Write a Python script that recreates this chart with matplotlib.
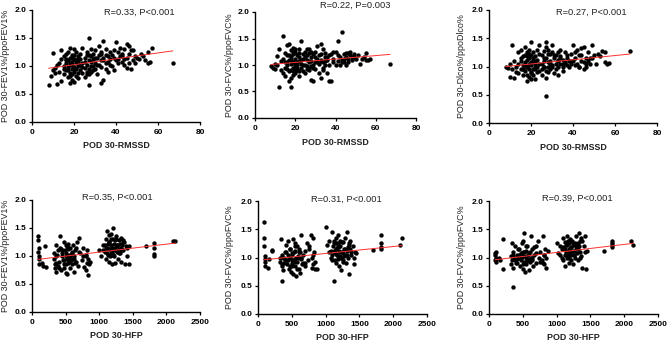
import numpy as np
import matplotlib.pyplot as plt

plt.rcParams['font.family'] = ['Liberation Sans', 'DejaVu Sans']

# ---- top row: x = POD 30-RMSSD (same patients in all three panels)
x_rmssd = [8, 9, 10, 10, 11, 11, 12, 12, 13, 13,
           14, 14, 14, 15, 15, 15, 16, 16, 16, 17,
           17, 17, 17, 18, 18, 18, 18, 18, 19, 19,
           19, 19, 19, 20, 20, 20, 20, 20, 21, 21,
           21, 21, 22, 22, 22, 22, 23, 23, 23, 24,
           24, 24, 25, 25, 25, 26, 26, 26, 27, 27,
           27, 27, 27, 28, 28, 28, 29, 29, 29, 30,
           30, 30, 31, 31, 32, 32, 32, 33, 33, 33,
           34, 34, 34, 35, 35, 35, 36, 36, 37, 37,
           38, 38, 39, 39, 40, 40, 41, 41, 42, 42,
           43, 43, 44, 44, 45, 45, 45, 46, 46, 47,
           47, 48, 49, 49, 50, 51, 52, 54, 55, 55,
           56, 57, 67, 16, 19, 22, 26, 29, 33, 36,
           15, 16, 17, 18, 18, 19, 20, 20, 21, 22,
           23, 24, 25, 26, 27, 28, 28, 30, 31, 33,
           34, 35, 37, 39, 41, 43, 44, 46, 48, 53]

fev1_rmssd = [0.66, 0.83, 1.23, 0.93, 0.97, 0.88, 0.68, 1.02, 1.05, 0.90,
              0.73, 1.28, 1.12, 0.95, 1.18, 0.86, 1.05, 0.92, 1.22, 0.98,
              1.10, 0.80, 1.25, 0.70, 1.33, 1.02, 0.88, 1.15, 0.95, 1.20,
              0.75, 1.08, 0.85, 1.30, 0.98, 0.72, 1.12, 0.90, 1.05, 1.25,
              0.82, 0.95, 1.18, 1.00, 0.78, 1.08, 0.92, 1.22, 1.02, 1.32,
              0.88, 1.05, 1.15, 0.96, 0.80, 1.25, 1.02, 0.90, 1.50, 0.66,
              1.10, 0.85, 0.95, 1.30, 1.00, 1.18, 0.92, 1.12, 1.22, 1.05,
              0.95, 1.28, 1.15, 0.85, 1.02, 1.20, 1.35, 0.69, 1.10, 0.98,
              1.45, 0.75, 1.15, 1.05, 1.30, 0.95, 1.18, 1.08, 1.25, 1.12,
              1.00, 1.20, 0.92, 1.15, 1.43, 1.10, 1.25, 1.05, 1.18, 1.32,
              1.08, 1.22, 1.30, 1.12, 1.40, 1.15, 0.96, 1.35, 1.05, 0.95,
              1.28, 1.10, 1.18, 1.05, 1.15, 1.12, 1.22, 1.10, 1.25, 1.05,
              1.08, 1.32, 1.05, 1.10, 1.02, 1.15, 1.20, 1.00, 1.25, 0.90,
              1.00, 1.12, 0.93, 1.05, 0.82, 1.15, 1.20, 0.95, 1.10, 0.88,
              1.12, 0.98, 1.08, 0.85, 1.20, 1.08, 0.90, 1.15, 1.02, 1.22,
              1.10, 1.20, 1.02, 1.28, 1.12, 1.18, 1.02, 1.22, 1.28, 1.18]

fvc_rmssd = [0.98, 0.95, 1.02, 0.93, 1.17, 1.00, 0.58, 1.30, 1.08, 0.90,
             1.54, 0.85, 1.12, 0.95, 1.22, 0.80, 1.05, 0.92, 1.38, 0.70,
             1.10, 1.40, 0.88, 0.58, 1.28, 1.02, 0.75, 1.15, 0.95, 1.32,
             0.82, 1.20, 1.05, 1.25, 0.98, 0.85, 1.12, 0.92, 1.05, 1.18,
             0.90, 1.00, 1.15, 1.30, 0.80, 1.08, 0.95, 1.45, 1.02, 1.20,
             0.88, 1.12, 1.00, 1.25, 0.85, 1.10, 0.98, 1.18, 0.95, 1.05,
             1.22, 0.90, 1.30, 1.08, 0.72, 1.15, 0.70, 1.00, 1.20, 1.05,
             1.25, 0.92, 1.12, 1.35, 1.02, 1.18, 0.85, 1.40, 0.75, 1.10,
             1.05, 1.30, 0.95, 1.15, 1.22, 1.00, 0.85, 1.10, 1.18, 0.70,
             0.70, 1.20, 1.05, 1.12, 1.00, 1.25, 1.45, 1.08, 1.15, 1.00,
             1.63, 1.10, 1.05, 1.20, 1.15, 1.00, 1.22, 1.12, 1.05, 1.18,
             1.25, 1.10, 1.20, 1.15, 1.12, 1.18, 1.01, 1.15, 1.23, 1.10,
             1.10, 1.12, 1.01, 1.18, 1.25, 0.88, 1.30, 0.95, 1.08, 1.15,
             1.05, 1.00, 1.18, 0.90, 1.10, 0.88, 1.30, 1.02, 0.95, 1.22,
             1.10, 1.00, 1.15, 0.92, 1.08, 1.25, 0.98, 1.15, 1.05, 1.20,
             0.90, 1.08, 1.00, 1.25, 1.18, 1.05, 1.12, 1.22, 1.15, 1.12]

dlco_rmssd = [1.00, 0.98, 1.05, 0.82, 1.38, 0.95, 0.80, 1.10, 1.00, 0.90,
              1.25, 0.88, 1.05, 1.15, 0.95, 1.30, 1.02, 0.85, 1.18, 1.08,
              0.92, 1.20, 1.35, 0.75, 1.12, 1.00, 0.85, 1.25, 1.05, 0.95,
              1.30, 0.82, 1.15, 1.44, 1.02, 0.90, 1.20, 0.78, 1.10, 0.95,
              1.25, 0.85, 1.05, 1.18, 0.78, 0.95, 1.12, 1.00, 1.30, 0.92,
              1.38, 1.05, 1.20, 0.95, 0.85, 1.10, 1.28, 1.00, 0.48, 1.43,
              1.15, 0.80, 1.35, 1.00, 1.22, 0.90, 1.10, 1.05, 0.95, 1.25,
              1.38, 1.00, 1.15, 0.88, 1.05, 1.20, 0.95, 1.25, 1.10, 0.85,
              1.30, 1.05, 1.18, 1.00, 1.12, 0.92, 1.08, 1.25, 1.02, 1.15,
              1.10, 1.00, 1.05, 1.22, 1.38, 1.10, 1.02, 1.15, 1.30, 1.05,
              1.00, 1.20, 1.10, 1.32, 0.95, 1.08, 1.35, 1.15, 1.00, 1.25,
              1.10, 1.05, 1.38, 1.15, 1.20, 1.05, 1.22, 1.28, 1.08, 1.25,
              1.05, 1.07, 1.27, 0.95, 1.18, 1.10, 1.00, 1.22, 1.12, 1.05,
              1.10, 0.95, 1.02, 1.18, 1.00, 1.22, 0.88, 1.08, 1.15, 1.00,
              0.90, 1.22, 1.05, 1.15, 0.92, 1.08, 1.30, 1.02, 1.20, 1.00,
              1.15, 1.05, 1.20, 1.10, 1.25, 1.00, 1.20, 1.05, 1.15, 1.18]

# ---- bottom row: x = POD 30-HFP
x_hfp = [90, 90, 95, 100, 100, 105, 110, 150, 170, 200,
         210, 330, 340, 350, 350, 360, 370, 380, 400, 410,
         420, 430, 450, 460, 470, 480, 490, 500, 500, 510,
         520, 520, 530, 540, 540, 550, 560, 570, 580, 590,
         600, 610, 620, 630, 640, 650, 670, 690, 700, 720,
         740, 760, 780, 800, 810, 820, 830, 840, 850, 870,
         1000, 1020, 1050, 1080, 1100, 1100, 1110, 1120, 1130, 1140,
         1150, 1150, 1160, 1170, 1180, 1180, 1190, 1200, 1200, 1210,
         1220, 1220, 1230, 1240, 1250, 1260, 1270, 1280, 1290, 1300,
         1310, 1320, 1330, 1340, 1350, 1360, 1380, 1400, 1420, 1440,
         1450, 1700, 1820, 1820, 1820, 1820, 2100, 2130, 560, 1160,
         380, 450, 520, 610, 800, 1130, 1190, 1250, 1330, 480,
         330, 540, 700, 1100, 1200, 1270, 1050, 640, 430, 1360,
         340, 360, 400, 440, 470, 500, 510, 530, 550, 570,
         590, 620, 660, 760, 820, 1080, 1120, 1140, 1150, 1170,
         1190, 1210, 1230, 1240, 1260, 1290, 1310, 1340, 1370, 1420]

fev1_hfp = [1.35, 1.08, 1.28, 0.95, 1.15, 0.85, 1.00, 0.88, 0.82, 1.18,
            0.80, 0.95, 0.78, 0.72, 1.20, 0.88, 1.02, 1.10, 0.90, 1.15,
            1.35, 0.75, 1.05, 0.92, 1.25, 0.85, 1.10, 0.70, 1.00, 1.20,
            0.95, 0.68, 1.12, 0.88, 1.22, 1.02, 0.78, 1.15, 0.92, 1.05,
            0.85, 1.20, 0.72, 1.00, 1.10, 0.90, 1.25, 0.82, 1.32, 1.05,
            0.92, 1.15, 0.80, 1.02, 0.75, 1.10, 0.66, 0.95, 0.85, 0.90,
            1.10, 1.00, 1.20, 1.08, 1.30, 0.95, 1.45, 1.15, 1.02, 1.38,
            1.25, 0.90, 1.12, 1.40, 1.05, 1.20, 0.85, 1.30, 1.10, 1.50,
            1.00, 1.22, 1.15, 0.88, 1.35, 1.08, 1.18, 0.95, 1.28, 1.12,
            1.05, 1.32, 0.90, 1.20, 1.10, 1.25, 0.85, 1.18, 1.00, 0.85,
            1.18, 1.18, 1.23, 1.15, 1.03, 1.00, 1.26, 1.26, 0.98, 1.00,
            0.82, 1.00, 1.18, 0.95, 1.00, 1.22, 1.05, 1.30, 1.15, 0.78,
            1.05, 0.95, 1.08, 1.15, 1.02, 1.20, 1.10, 0.88, 1.12, 1.28,
            0.85, 1.00, 0.78, 1.10, 0.92, 1.05, 0.85, 1.15, 0.90, 1.00,
            1.08, 0.95, 1.15, 1.00, 0.88, 1.20, 1.05, 1.25, 1.12, 1.30,
            1.15, 1.02, 1.28, 1.10, 1.20, 1.05, 1.22, 1.10, 1.25, 1.15]

fvc_hfp = [1.63, 1.34, 1.20, 1.03, 0.98, 0.85, 0.92, 0.82, 0.98, 1.14,
           1.12, 0.92, 1.32, 0.85, 1.05, 0.58, 0.78, 1.00, 0.95, 1.22,
           1.10, 0.88, 1.30, 0.80, 1.00, 1.15, 0.75, 0.95, 1.05, 0.90,
           1.33, 0.70, 1.10, 0.85, 1.25, 0.98, 0.68, 1.20, 0.92, 1.02,
           0.80, 1.15, 0.72, 1.00, 1.40, 0.88, 1.05, 0.85, 1.12, 1.25,
           0.95, 1.20, 1.40, 1.00, 1.35, 0.88, 1.10, 0.80, 0.92, 0.80,
           1.54, 1.22, 1.10, 1.00, 1.45, 0.95, 1.20, 1.30, 0.58, 1.08,
           1.15, 0.90, 1.25, 1.05, 1.40, 0.98, 1.18, 1.12, 0.85, 1.30,
           1.02, 1.20, 0.78, 1.10, 1.28, 0.95, 1.15, 1.05, 1.35, 0.90,
           1.12, 1.45, 1.00, 1.22, 0.70, 1.30, 1.05, 1.20, 0.88, 1.10,
           1.08, 1.13, 1.40, 1.25, 1.18, 1.15, 1.22, 1.35, 1.00, 1.15,
           0.90, 1.05, 0.95, 1.10, 0.82, 1.12, 1.25, 1.08, 1.18, 0.85,
           1.00, 1.12, 0.90, 1.05, 1.20, 1.02, 1.30, 0.98, 0.95, 1.15,
           1.00, 0.88, 1.10, 0.95, 1.15, 0.85, 1.08, 0.92, 1.20, 0.80,
           1.00, 1.10, 0.90, 1.15, 1.05, 1.12, 1.25, 0.95, 1.35, 1.05,
           1.20, 1.10, 1.00, 1.28, 0.92, 1.15, 1.05, 1.25, 1.10, 1.00]

dlco_hfp = [1.08, 0.95, 1.05, 1.00, 0.92, 0.98, 1.10, 1.00, 0.96, 0.80,
            1.33, 0.88, 1.25, 0.48, 1.10, 0.82, 1.00, 1.20, 0.95, 1.05,
            0.90, 1.15, 1.00, 0.85, 1.08, 0.95, 1.25, 0.80, 1.02, 1.30,
            0.92, 1.44, 0.75, 1.12, 1.00, 0.88, 1.20, 0.95, 1.05, 0.78,
            1.10, 0.92, 1.38, 1.00, 1.15, 0.85, 1.05, 1.20, 0.90, 1.30,
            1.00, 1.10, 0.95, 1.38, 1.05, 0.88, 1.15, 0.82, 1.00, 1.12,
            1.25, 1.08, 1.20, 1.00, 1.35, 0.95, 1.15, 1.28, 0.85, 1.10,
            1.22, 1.00, 1.38, 1.05, 1.15, 0.90, 1.25, 1.10, 1.32, 0.95,
            1.18, 1.05, 1.30, 0.88, 1.12, 1.22, 1.00, 1.15, 1.38, 1.08,
            1.25, 0.95, 1.44, 1.10, 1.30, 1.02, 0.82, 1.20, 1.38, 0.80,
            1.12, 1.11, 1.29, 1.22, 1.18, 1.25, 1.29, 1.23, 0.98, 1.02,
            0.95, 1.05, 1.10, 0.98, 0.90, 1.15, 1.30, 1.05, 1.20, 1.00,
            1.02, 0.92, 1.08, 1.18, 1.10, 1.25, 1.05, 0.95, 1.00, 1.35,
            0.95, 1.05, 0.90, 1.15, 1.00, 1.10, 0.88, 1.02, 1.20, 0.95,
            1.08, 1.00, 1.18, 0.92, 1.05, 1.15, 1.05, 1.22, 1.10, 1.30,
            1.00, 1.18, 1.12, 1.25, 1.05, 1.20, 1.15, 1.00, 1.30, 1.10]

# fitted line values at the ends of the x range
fit_start = [0.96, 1.01, 1.00, 0.94, 0.96, 0.96]
fit_end = [1.27, 1.20, 1.22, 1.23, 1.21, 1.25]

titles = ['R=0.33, P<0.001', 'R=0.22, P=0.003', 'R=0.27, P<0.001',
          'R=0.35, P<0.001', 'R=0.31, P<0.001', 'R=0.39, P<0.001']
ylabels = ['POD 30-FEV1%/ppoFEV1%', 'POD 30-FVC%/ppoFVC%', 'POD 30-Dlco%/ppoDlco%',
           'POD 30-FEV1%/ppoFEV1%', 'POD 30-FVC%/ppoFVC%', 'POD 30-FVC%/ppoFVC%']
xlabels = ['POD 30-RMSSD'] * 3 + ['POD 30-HFP'] * 3

xs = [x_rmssd] * 3 + [x_hfp] * 3
ys = [fev1_rmssd, fvc_rmssd, dlco_rmssd, fev1_hfp, fvc_hfp, dlco_hfp]

W, H = 669, 344
# axes boxes in pixels: x0, x1, ytop, ybottom
boxes = [(32, 200, 10, 122), (255, 416, 12, 118), (489, 657, 10, 123),
         (32, 200, 200, 312), (258, 427, 201, 314), (489, 658, 201, 314)]
title_pos = [(139, 12), (355, 5), (591, 12), (117, 197), (346, 199), (577, 198)]
ylab_x = [6, 229, 462, 6, 230, 462]

fig = plt.figure(figsize=(W / 100, H / 100), dpi=100)

for i in range(6):
    x0, x1, yt, yb = boxes[i]
    ax = fig.add_axes([x0 / W, 1 - yb / H, (x1 - x0) / W, (yb - yt) / H])
    ax.scatter(xs[i], ys[i], s=10, c='black', linewidths=0, zorder=3)
    xmin, xmax = min(xs[i]), max(xs[i])
    ax.plot([xmin, xmax], [fit_start[i], fit_end[i]], color='#ff3030', lw=0.7, zorder=4)
    ax.set_ylim(0, 2.0)
    ax.set_yticks([0, 0.5, 1.0, 1.5, 2.0])
    ax.set_yticklabels(['0.0', '0.5', '1.0', '1.5', '2.0'])
    if i < 3:
        ax.set_xlim(0, 80)
        ax.set_xticks([0, 20, 40, 60, 80])
    else:
        ax.set_xlim(0, 2500)
        ax.set_xticks([0, 500, 1000, 1500, 2000, 2500])
    for s in ['top', 'right']:
        ax.spines[s].set_visible(False)
    for s in ['left', 'bottom']:
        ax.spines[s].set_linewidth(1.0)
    ax.tick_params(direction='out', length=2.2, width=0.9, labelsize=6.0)
    ax.tick_params(axis='x', pad=2.6)
    ax.tick_params(axis='y', pad=1.8)
    for lab in ax.get_xticklabels() + ax.get_yticklabels():
        lab.set_fontweight('bold')
    ax.patch.set_alpha(0)

    tx, ty = title_pos[i]
    fig.text(tx / W, 1 - ty / H, titles[i], ha='center', va='center', fontsize=6.7, color='#222222')
    fig.text((x0 + x1) / 2 / W, 1 - (yb + 24) / H, xlabels[i], ha='center', va='center',
             fontsize=6.4, fontweight='bold', color='#222222')
    fig.text(ylab_x[i] / W, 1 - (yt + yb) / 2 / H, ylabels[i], ha='center', va='center',
             rotation=90, fontsize=6.4, color='#222222')

fig.savefig('out.png', dpi=100)
